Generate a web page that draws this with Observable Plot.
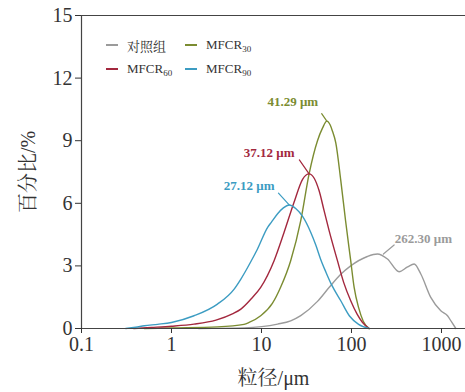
<!DOCTYPE html>
<html><head><meta charset="utf-8">
<script src="https://cdn.jsdelivr.net/npm/d3@7"></script>
<script src="https://cdn.jsdelivr.net/npm/@observablehq/plot@0.6"></script>
<style>
body{margin:0;background:#fff;}
#wrap{position:relative;width:465px;height:392px;}
#wrap svg, #wrap svg text{font-family:"Liberation Serif","Noto Serif CJK SC",serif !important;}
#legend{position:absolute;left:0;top:0;font-size:13px;font-family:"Liberation Serif","Noto Serif CJK SC",serif;color:#333;}
.item{position:absolute;display:flex;align-items:center;height:16px;white-space:nowrap;}
.sw{display:inline-block;width:12px;height:2px;margin-right:9px;}
sub{font-size:9px;vertical-align:-3px;line-height:0;}
</style></head><body><div id="wrap"><div id="legend"></div></div>
<script>
// Series names (base + subscript) and colours
const seriesBase = ["对照组", "MFCR", "MFCR", "MFCR"];
const seriesSub = ["", "30", "60", "90"];
const seriesKey = ["对照组", "MFCR30", "MFCR60", "MFCR90"];
const seriesColor = ["#9b9b9b", "#7b8c31", "#a3283e", "#3c9cc2"];
const peakLabels = ["262.30 μm", "41.29 μm", "37.12 μm", "27.12 μm"];

// particle size (μm) and percentage values
const xCtrl = [2, 6.4, 15.1, 21.1, 27.3, 41.9, 56, 76, 98, 150, 194, 251, 338, 420, 497, 589, 760, 982, 1167, 1300, 1443];
const yCtrl = [0, 0.03, 0.21, 0.37, 0.62, 1.3, 1.95, 2.6, 3.0, 3.45, 3.57, 3.33, 2.72, 2.95, 3.09, 2.61, 1.49, 0.85, 0.61, 0.3, 0];
const x30 = [0.5, 1, 3.24, 6.4, 7.28, 9.8, 13.2, 16.4, 21.1, 27.3, 33.8, 41.9, 47.6, 53.2, 58, 61.5, 66.9, 76, 86, 98, 107, 120, 135, 157];
const y30 = [0, 0.03, 0.08, 0.2, 0.29, 0.61, 1.2, 2.0, 3.25, 5.17, 7.41, 9.0, 9.6, 9.94, 9.75, 9.45, 8.9, 7.1, 5.15, 3.25, 1.97, 1.0, 0.35, 0];
const x60 = [0.38, 0.6, 1, 1.78, 3.12, 4.75, 5.9, 7.6, 9.8, 13.8, 17.8, 23, 28.6, 33.8, 38.5, 43.6, 49.6, 56.4, 69.8, 82, 98, 115, 132, 157];
const y60 = [0, 0.05, 0.11, 0.21, 0.4, 0.7, 0.93, 1.4, 1.97, 3.25, 4.6, 6.05, 7.15, 7.41, 7.2, 6.61, 5.65, 4.69, 3.25, 2.2, 1.33, 0.7, 0.3, 0];
const x90 = [0.31, 0.4, 0.5, 0.7, 1, 1.78, 3.24, 4.97, 5.9, 7.6, 9.0, 11.7, 12.9, 15.1, 17.5, 20.3, 24, 28.5, 35.3, 40.1, 45.6, 52, 60, 76, 95, 120, 157];
const y90 = [0, 0.06, 0.13, 0.2, 0.29, 0.61, 1.17, 1.89, 2.37, 3.2, 3.8, 4.85, 5.1, 5.5, 5.78, 5.92, 5.75, 5.38, 4.6, 4.0, 3.3, 2.7, 2.1, 1.33, 0.6, 0.2, 0];

const xTicks = [0.1, 1, 10, 100, 1000];
const yTicks = [0, 3, 6, 9, 12, 15];

const raw = [[xCtrl, yCtrl], [x30, y30], [x60, y60], [x90, y90]];
const rows = raw.flatMap(([xs, ys], i) => xs.map((x, j) => ({series: seriesKey[i], x, y: ys[j]})));
const peaks = raw.map(([xs, ys], i) => {
  const j = d3.maxIndex(ys);
  return {series: seriesKey[i], x: xs[j], y: ys[j], label: peakLabels[i], color: seriesColor[i]};
});

// annotation placement (offsets in px)
const annStyle = [
  {rotate: 50, length: 14, ldx: 6, dx: 46, dy: -15},
  {rotate: -35, length: 9, ldx: 0, dx: -34, dy: -19},
  {rotate: -35, length: 17, ldx: 0, dx: -40, dy: -21},
  {rotate: -42, length: 16, ldx: 0, dx: -40, dy: -19}
];
const lineShape = {draw(context, l) { context.moveTo(0, 0); context.lineTo(0, -l); }};
const FONT = '"Liberation Serif","Noto Serif CJK SC",serif';

const annMarks = peaks.flatMap((p, i) => [
  Plot.vector([p], {x: "x", y: "y", anchor: "start", rotate: annStyle[i].rotate, length: annStyle[i].length,
    dx: annStyle[i].ldx, shape: lineShape, stroke: p.color, strokeWidth: 1.2}),
  Plot.text([p], {x: "x", y: "y", text: "label", dx: annStyle[i].dx, dy: annStyle[i].dy,
    fill: p.color, fontWeight: "bold", fontSize: 13, textAnchor: "middle"})
]);

const chart = Plot.plot({
  width: 465, height: 392,
  marginLeft: 81, marginRight: 0, marginTop: 15, marginBottom: 64,
  style: {fontFamily: FONT, color: "#333", background: "transparent"},
  x: {type: "log", domain: [0.1, 1848]},
  y: {domain: [0, 15]},
  color: {domain: seriesKey, range: seriesColor},
  marks: [
    Plot.line(rows, {x: "x", y: "y", z: "series", stroke: "series", strokeWidth: 1.4, curve: "monotone-x"}),
    ...annMarks,
    Plot.ruleY([0], {stroke: "#444", strokeWidth: 1.2}),
    Plot.ruleY([15], {stroke: "#444", strokeWidth: 1.2}),
    Plot.ruleX([0.1], {stroke: "#444", strokeWidth: 1.2}),
    Plot.axisX({ticks: xTicks, tickFormat: d => String(d), tickSize: 5, tickPadding: 3, fontSize: 20,
      label: "粒径/μm", labelAnchor: "center", labelArrow: "none", labelOffset: 56}),
    Plot.axisY({ticks: yTicks, tickSize: 6, tickPadding: 3, fontSize: 20,
      label: "百分比/%", labelAnchor: "center", labelArrow: "none", labelOffset: 61})
  ]
});
const wrap = document.getElementById("wrap");
wrap.insertBefore(chart, wrap.firstChild);
chart.style.position = "absolute"; chart.style.left = "0"; chart.style.top = "0";

// legend
const legend = document.getElementById("legend");
const legPos = [[106, 37], [185, 37], [106, 61], [185, 61]];
seriesKey.forEach((k, i) => {
  const item = document.createElement("div");
  item.className = "item";
  item.style.left = legPos[i][0] + "px";
  item.style.top = legPos[i][1] + "px";
  const sw = document.createElement("span");
  sw.className = "sw";
  sw.style.background = seriesColor[i];
  const t = document.createElement("span");
  t.textContent = seriesBase[i];
  if (seriesSub[i]) { const s = document.createElement("sub"); s.textContent = seriesSub[i]; t.appendChild(s); }
  item.appendChild(sw); item.appendChild(t);
  legend.appendChild(item);
});
</script></body></html>
